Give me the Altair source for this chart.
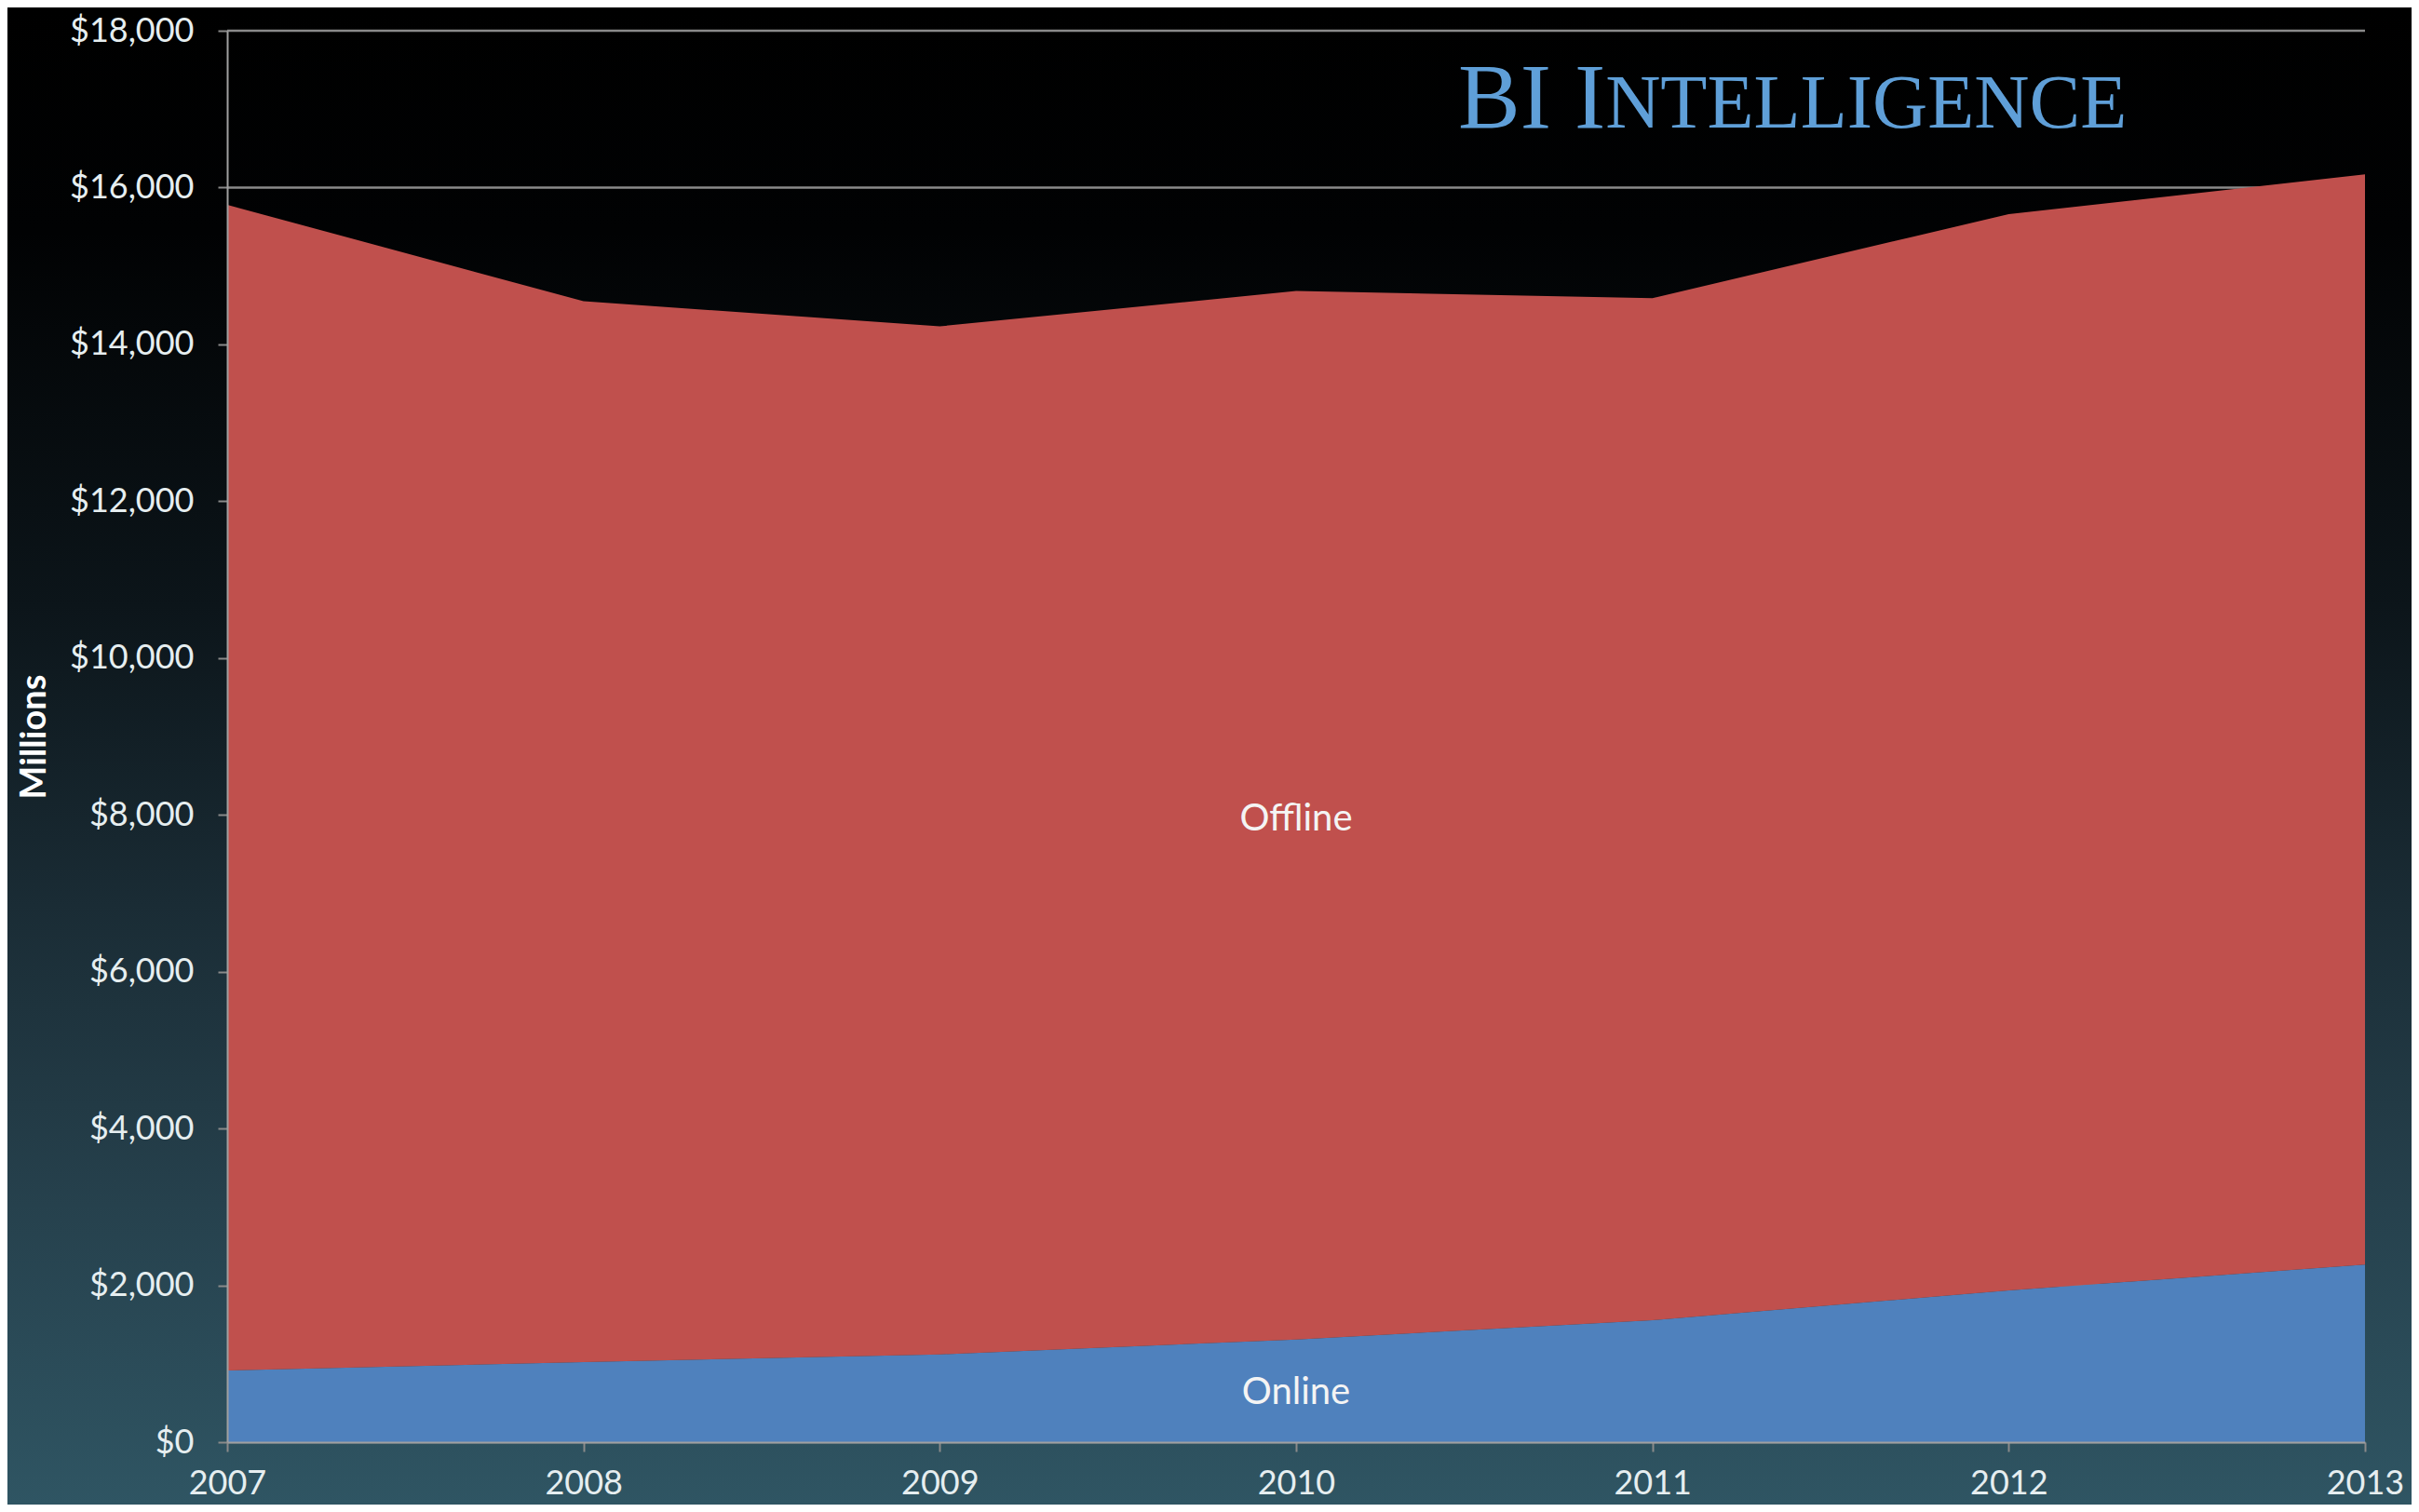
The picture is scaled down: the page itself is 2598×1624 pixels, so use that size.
import altair as alt
import pandas as pd

years = [2007, 2008, 2009, 2010, 2011, 2012, 2013]
online = [915, 1020, 1120, 1310, 1555, 1935, 2265]
offline = [14865, 13530, 13110, 13370, 13035, 13725, 13905]
series_names = ["Online", "Offline"]
series_colors = ["#4f81bd", "#c0504d"]
y_ticks = [0, 2000, 4000, 6000, 8000, 10000, 12000, 14000, 16000, 18000]

W, H = 2296, 1516
PL, PT, PR, PB = 236, 25, 50, 67

rows = []
for i, yr in enumerate(years):
    rows.append({"year": yr, "series": "Online", "order": 0, "value": online[i]})
    rows.append({"year": yr, "series": "Offline", "order": 1, "value": offline[i]})
df = pd.DataFrame(rows)

xscale = alt.Scale(domain=[2007, 2013], nice=False, zero=False)
yscale = alt.Scale(domain=[0, 18000], nice=False)

bg = alt.Chart(pd.DataFrame({"a": [0]})).mark_rect(
    color=alt.LinearGradient(
        gradient="linear",
        stops=[
            alt.GradientStop(color="#000000", offset=0),
            alt.GradientStop(color="#010203", offset=0.15),
            alt.GradientStop(color="#0c151a", offset=0.4),
            alt.GradientStop(color="#1a2c35", offset=0.6),
            alt.GradientStop(color="#26414d", offset=0.8),
            alt.GradientStop(color="#2f5563", offset=1),
        ],
        x1=0, x2=0, y1=0, y2=1,
    )
).encode(
    x=alt.value(-PL), x2=alt.value(W + PR),
    y=alt.value(-PT), y2=alt.value(H + PB),
)

grid = alt.Chart(pd.DataFrame({"v": y_ticks})).mark_rule(
    color="#8a8a8a", strokeWidth=2.5
).encode(
    y=alt.Y("v:Q", scale=yscale),
    x=alt.value(0), x2=alt.value(W),
)

area = alt.Chart(df).mark_area(opacity=1).encode(
    x=alt.X("year:Q", scale=xscale,
            axis=alt.Axis(values=years, format="d", title=None, grid=False,
                          labelFlush=False, tickSize=10, labelPadding=17,
                          labelFontSize=36, labelColor="#e6eef0", labelFont="Lato",
                          tickColor="#8a8a8a", tickWidth=2, domainColor="#a0a0a0",
                          domainWidth=2, zindex=1)),
    y=alt.Y("value:Q", stack="zero", scale=yscale,
            axis=alt.Axis(values=y_ticks, format="$,.0f", title="Millions", grid=False,
                          tickSize=10, labelPadding=26, labelFontSize=36,
                          labelColor="#e6eef0", labelFont="Lato",
                          tickColor="#8a8a8a", tickWidth=2, domainColor="#a0a0a0",
                          domainWidth=2, titleFont="Lato", titleFontSize=38,
                          titleFontWeight="bold", titleColor="#ffffff",
                          titleX=-207, titleY=H / 2, titleAlign="center",
                          titleBaseline="middle", zindex=1)),
    color=alt.Color("series:N", scale=alt.Scale(domain=series_names, range=series_colors),
                    legend=None),
    order=alt.Order("order:Q"),
)

labels_df = pd.DataFrame({
    "year": [2010, 2010],
    "value": [7940, 627],
    "text": ["Offline", "Online"],
})
labels = alt.Chart(labels_df).mark_text(
    font="Lato", fontSize=40, color="#f4f4f4", align="center", baseline="middle"
).encode(
    x=alt.X("year:Q", scale=xscale),
    y=alt.Y("value:Q", scale=yscale),
    text="text:N",
)

logo_df = pd.DataFrame({
    "year": [2010.455, 2010.868],
    "value": [16760, 16760],
    "text": ["BI I", "NTELLIGENCE"],
    "size": [100, 82],
})
logo = alt.Chart(logo_df).mark_text(
    font="Liberation Serif", color="#5f9fd8", align="left", baseline="alphabetic"
).encode(
    x=alt.X("year:Q", scale=xscale),
    y=alt.Y("value:Q", scale=yscale),
    text="text:N",
    size=alt.Size("size:Q", scale=None, legend=None),
)

chart = alt.layer(bg, grid, area, labels, logo).properties(
    width=W, height=H,
    autosize=alt.AutoSizeParams(type="none"),
    padding={"left": PL, "top": PT, "right": PR, "bottom": PB},
    background="#000000",
).configure_view(stroke=None)

chart.save("out.html", embed_options={"renderer": "svg", "actions": False})
